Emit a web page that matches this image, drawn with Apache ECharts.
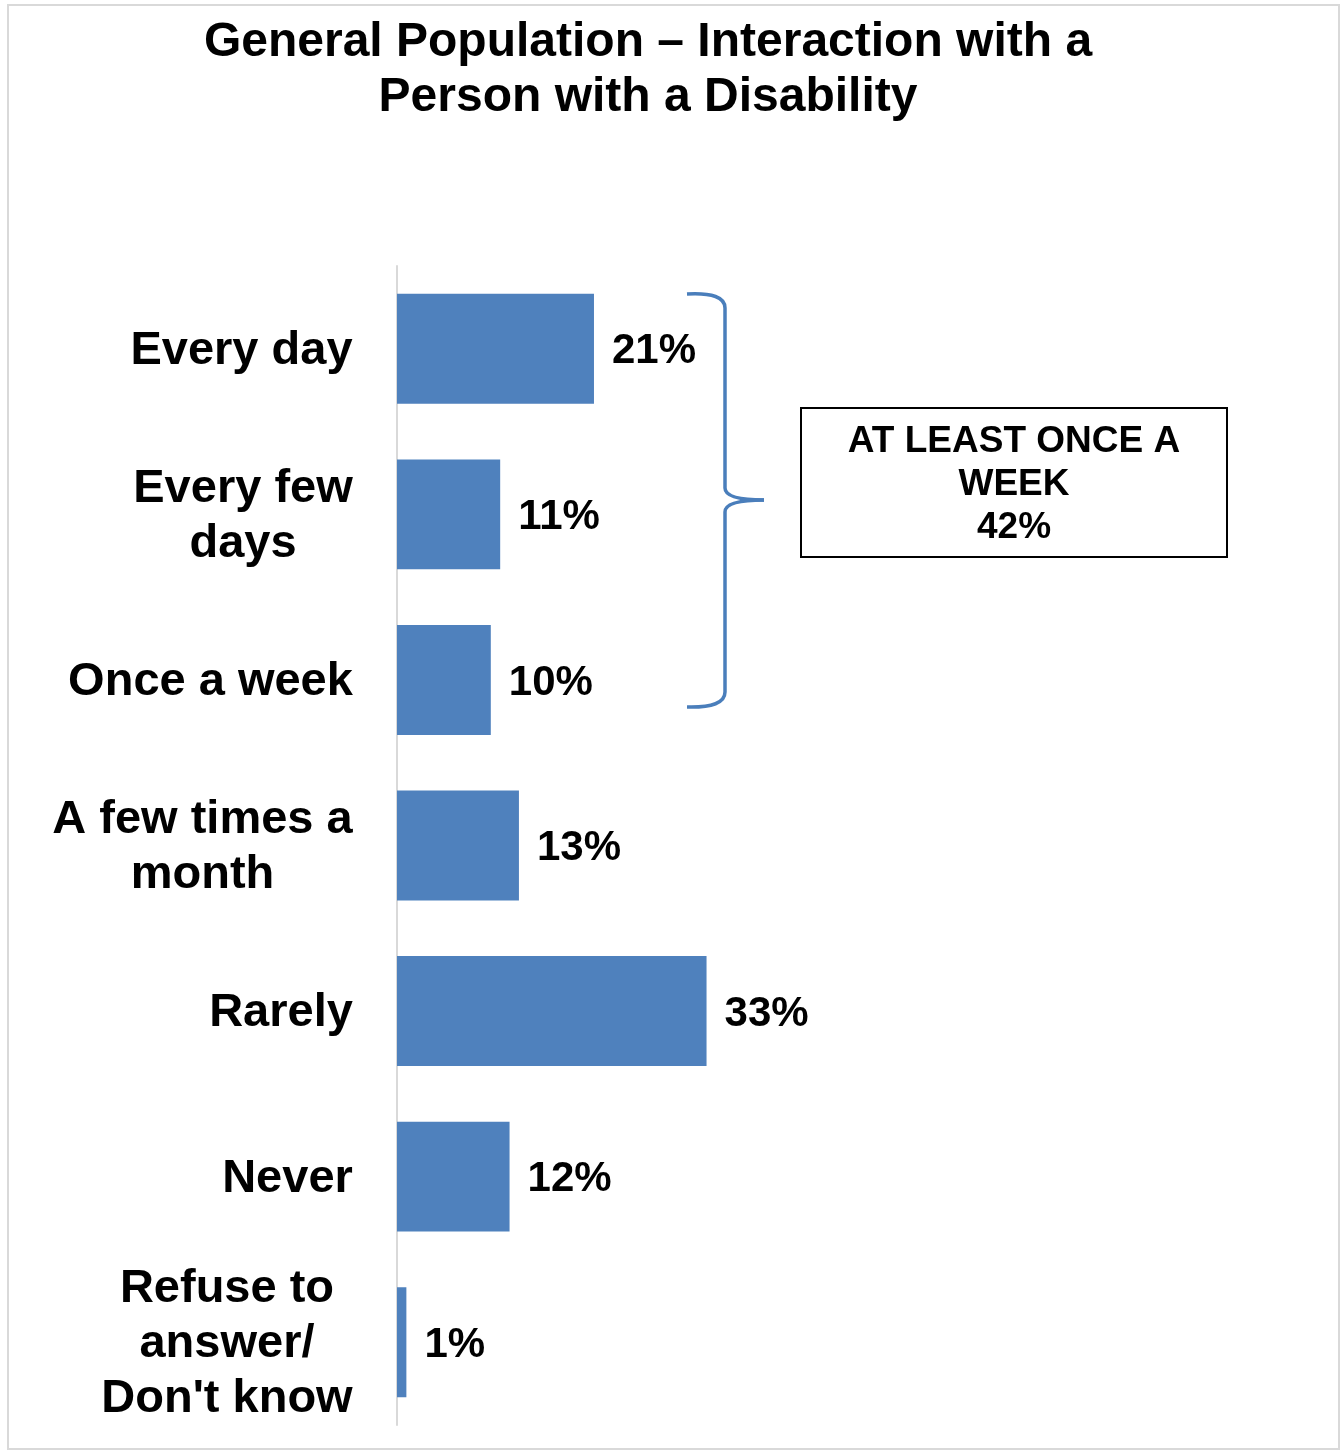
<!DOCTYPE html>
<html>
<head>
<meta charset="utf-8">
<script src="https://cdn.jsdelivr.net/npm/echarts@6/dist/echarts.min.js"></script>
<style>
    html, body { margin: 0; padding: 0; background: #fff; }
    #chart { width: 1344px; height: 1454px; }
</style>
</head>
<body>
<div id="chart"></div>
<script>
var categories = ['Every day', 'Every few\ndays', 'Once a week', 'A few times a\nmonth', 'Rarely', 'Never', 'Refuse to\nanswer/\nDon\'t know'];
var values = [21, 11, 10, 13, 33, 12, 1];
var groupLabel = ['AT LEAST ONCE A', 'WEEK', '42%'];

var FONT = '"Liberation Sans", Arial, sans-serif';
var BRACE = '#4a7ebb';

// width of each label block, so lines are centred inside a right aligned block
var ctx = document.createElement('canvas').getContext('2d');
ctx.font = 'bold 47px ' + FONT;
var rich = {};
categories.forEach(function (c, i) {
    var w = 0;
    c.split('\n').forEach(function (line) {
        w = Math.max(w, ctx.measureText(line).width);
    });
    rich['c' + i] = {
        width: Math.ceil(w),
        align: 'center',
        fontSize: 47,
        fontWeight: 'bold',
        fontFamily: FONT,
        color: '#000',
        lineHeight: 55,
        padding: [4, 0, 0, 0]
    };
});

function braceCurve(x1, y1, cx, cy, x2, y2) {
    return {
        type: 'bezierCurve',
        shape: { x1: x1, y1: y1, cpx1: cx, cpy1: cy, x2: x2, y2: y2 },
        style: { fill: 'none', stroke: BRACE, lineWidth: 3.5 },
        silent: true
    };
}
function braceLine(x1, y1, x2, y2) {
    return {
        type: 'line',
        shape: { x1: x1, y1: y1, x2: x2, y2: y2 },
        style: { stroke: BRACE, lineWidth: 3.5 },
        silent: true
    };
}

var myChart = echarts.init(document.getElementById('chart'));
var option = {
    animation: false,
    backgroundColor: '#fff',
    title: {
        text: 'General Population \u2013 Interaction with a\nPerson with a Disability',
        left: 643,
        top: 10,
        textAlign: 'center',
        textStyle: {
            fontFamily: FONT,
            fontSize: 48,
            fontWeight: 'bold',
            color: '#000',
            lineHeight: 55
        }
    },
    grid: {
        left: 397,
        right: 9,
        top: 266,
        bottom: 29,
        containLabel: false
    },
    xAxis: {
        type: 'value',
        min: 0,
        max: 100,
        show: false
    },
    yAxis: {
        type: 'category',
        inverse: true,
        data: categories,
        axisLine: { lineStyle: { color: '#d9d9d9', width: 2 } },
        axisTick: { show: false },
        axisLabel: {
            margin: 44,
            formatter: function (value, index) {
                return value.split('\n').map(function (line) {
                    return '{c' + index + '|' + line + '}';
                }).join('\n');
            },
            rich: rich
        },
        splitLine: { show: false }
    },
    series: [{
        type: 'bar',
        data: values,
        barCategoryGap: '33.6%',
        itemStyle: { color: '#4f81bd' },
        label: {
            show: true,
            position: 'right',
            distance: 18,
            offset: [0, 3],
            formatter: '{c}%',
            fontFamily: FONT,
            fontSize: 42,
            fontWeight: 'bold',
            color: '#000'
        }
    }],
    graphic: [
        {
            // outer chart border
            type: 'rect',
            shape: { x: 8, y: 5, width: 1331, height: 1444 },
            style: { fill: 'none', stroke: '#d9d9d9', lineWidth: 2 },
            silent: true
        },
        // curly brace grouping the weekly answers
        braceCurve(687, 294, 725, 292, 725, 308),
        braceLine(725, 308, 725, 488),
        braceCurve(725, 488, 725, 500, 764, 500),
        braceCurve(764, 500, 725, 500, 725, 512),
        braceLine(725, 512, 725, 692),
        braceCurve(725, 692, 725, 708, 687, 707),
        {
            type: 'rect',
            shape: { x: 801, y: 408, width: 426, height: 149 },
            style: { fill: '#fff', stroke: '#000', lineWidth: 2 },
            silent: true
        },
        {
            type: 'text',
            x: 1014,
            y: 485,
            style: {
                text: groupLabel.join('\n'),
                align: 'center',
                verticalAlign: 'middle',
                fontFamily: FONT,
                fontSize: 37,
                fontWeight: 'bold',
                lineHeight: 43,
                fill: '#000'
            },
            silent: true
        }
    ]
};

myChart.setOption(option);
</script>
</body>
</html>
